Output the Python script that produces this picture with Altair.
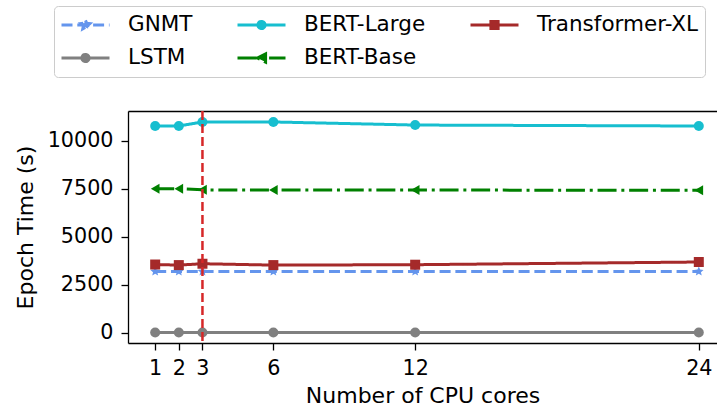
import math
import altair as alt
import pandas as pd

# ---------------- data ----------------
cores = [1, 2, 3, 6, 12, 24]
gnmt = [3200, 3200, 3200, 3200, 3200, 3200]
lstm = [30, 30, 30, 30, 30, 30]
bert_large = [10760, 10760, 10970, 10970, 10810, 10760]
bert_base = [7500, 7500, 7440, 7430, 7430, 7420]
transformer_xl = [3560, 3530, 3600, 3530, 3550, 3690]
cutoff_cores = [3]

# legend order (filled column by column, 2 rows)
models = ["GNMT", "LSTM", "BERT-Large", "BERT-Base", "Transformer-XL"]
series = {
    "GNMT": gnmt,
    "LSTM": lstm,
    "BERT-Large": bert_large,
    "BERT-Base": bert_base,
    "Transformer-XL": transformer_xl,
}

# ---------------- styles ----------------
colors = ["#6495ED", "#808080", "#17becf", "#008000", "#a52a2a"]
dashes = [[11, 4.8], [1, 0], [1, 0], [19, 4.8, 3, 4.8], [1, 0]]


def star_path(R, r):
    pts = []
    for i in range(10):
        rad = R if i % 2 == 0 else r
        a = -math.pi / 2 + i * math.pi / 5
        pts.append(f"{rad * math.cos(a):.3f},{rad * math.sin(a):.3f}")
    return "M" + "L".join(pts) + "Z"


def circle_path(r):
    return f"M{-r},0A{r},{r},0,1,0,{r},0A{r},{r},0,1,0,{-r},0Z"


def square_path(h):
    return f"M{-h},{-h}H{h}V{h}H{-h}Z"


def tri_left_path(h):
    return f"M{-h},0L{h},{-h}L{h},{h}Z"


marker_of = {
    "GNMT": star_path(1, 0.45),
    "LSTM": "circle",
    "BERT-Large": "circle",
    "BERT-Base": "triangle-left",
    "Transformer-XL": "square",
}

LINE = "M-1,0L1,0"
legend_paths = [
    LINE + star_path(0.19, 0.09),
    LINE + circle_path(0.15),
    LINE + circle_path(0.15),
    LINE + tri_left_path(0.17),
    LINE + square_path(0.15),
]

rows = []
for m in models:
    for c, v in zip(cores, series[m]):
        rows.append({"cores": c, "time": v, "model": m, "marker": marker_of[m]})
df = pd.DataFrame(rows)

FONT = "DejaVu Sans"

xscale = alt.Scale(domain=[-0.15, 24.77], nice=False, zero=False)
yscale = alt.Scale(domain=[-520, 11540], nice=False, zero=False)
color_scale = alt.Scale(domain=models, range=colors)
dash_scale = alt.Scale(domain=models, range=dashes)

xaxis = alt.Axis(
    orient="bottom", values=cores, title="Number of CPU cores",
    labelFontSize=20.7, titleFontSize=22, titleFontWeight="normal",
    labelColor="black", titleColor="black", tickColor="black",
    domainColor="black", tickSize=7, tickWidth=1.3, domainWidth=1.3,
    labelPadding=8, titlePadding=8, grid=False, labelFlush=False,
    labelOverlap=False, labelFont=FONT, titleFont=FONT,
)
yaxis = alt.Axis(
    orient="left", values=[0, 2500, 5000, 7500, 10000], format="d",
    title="Epoch Time (s)",
    labelFontSize=20.7, titleFontSize=22, titleFontWeight="normal",
    labelColor="black", titleColor="black", tickColor="black",
    domainColor="black", tickSize=7, tickWidth=1.3, domainWidth=1.3,
    labelPadding=8, titlePadding=10, grid=False, labelFlush=False,
    labelOverlap=False, labelFont=FONT, titleFont=FONT,
)
top_axis = alt.Axis(
    orient="top", labels=False, ticks=False, domain=True, title=None,
    grid=False, domainColor="black", domainWidth=1.3,
)

base = alt.Chart(df)

lines = base.mark_line(strokeWidth=3).encode(
    x=alt.X("cores:Q", scale=xscale, axis=xaxis),
    y=alt.Y("time:Q", scale=yscale, axis=yaxis),
    color=alt.Color("model:N", scale=color_scale, legend=None),
    strokeDash=alt.StrokeDash("model:N", scale=dash_scale, legend=None),
    detail="model:N",
)

points = base.mark_point(filled=True, opacity=1, size=100).encode(
    x=alt.X("cores:Q", axis=None),
    y=alt.Y("time:Q", axis=yaxis),
    color=alt.Color("model:N", scale=color_scale, legend=None),
    shape=alt.Shape("marker:N", scale=None),
)

leg = alt.Legend(
    title=None, orient="none", legendX=-74, legendY=-105,
    columns=3, columnPadding=43, rowPadding=7, clipHeight=26,
    labelOffset=17, symbolSize=2304, symbolStrokeWidth=3,
    labelFont=FONT, labelFontSize=21.5, labelColor="black", labelLimit=400,
    padding=6, strokeColor="#cccccc", fillColor="white", cornerRadius=4,
)

legend_layer = base.transform_filter("false").mark_point(
    filled=True, opacity=1, strokeWidth=3
).encode(
    x=alt.X("cores:Q", scale=xscale, axis=None),
    y=alt.Y("time:Q", scale=yscale, axis=yaxis),
    fill=alt.Fill("model:N", scale=alt.Scale(domain=models, range=colors), legend=leg),
    stroke=alt.Stroke("model:N", scale=alt.Scale(domain=models, range=colors), legend=leg),
    shape=alt.Shape("model:N", scale=alt.Scale(domain=models, range=legend_paths), legend=leg),
    strokeDash=alt.StrokeDash("model:N", scale=dash_scale, legend=leg),
)

vline = alt.Chart(pd.DataFrame({"cores": cutoff_cores})).mark_rule(
    color="#d62728", strokeWidth=2.5, strokeDash=[9, 4]
).encode(
    x=alt.X("cores:Q", axis=top_axis),
)

chart = alt.layer(legend_layer, lines, points, vline).properties(
    width=589, height=232,
    autosize=alt.AutoSizeParams(type="none"),
    padding={"left": 128, "top": 111, "right": 0, "bottom": 67},
).configure(font=FONT).configure_view(stroke=None)

chart.save("out.html", embed_options={"renderer": "svg", "actions": False})
